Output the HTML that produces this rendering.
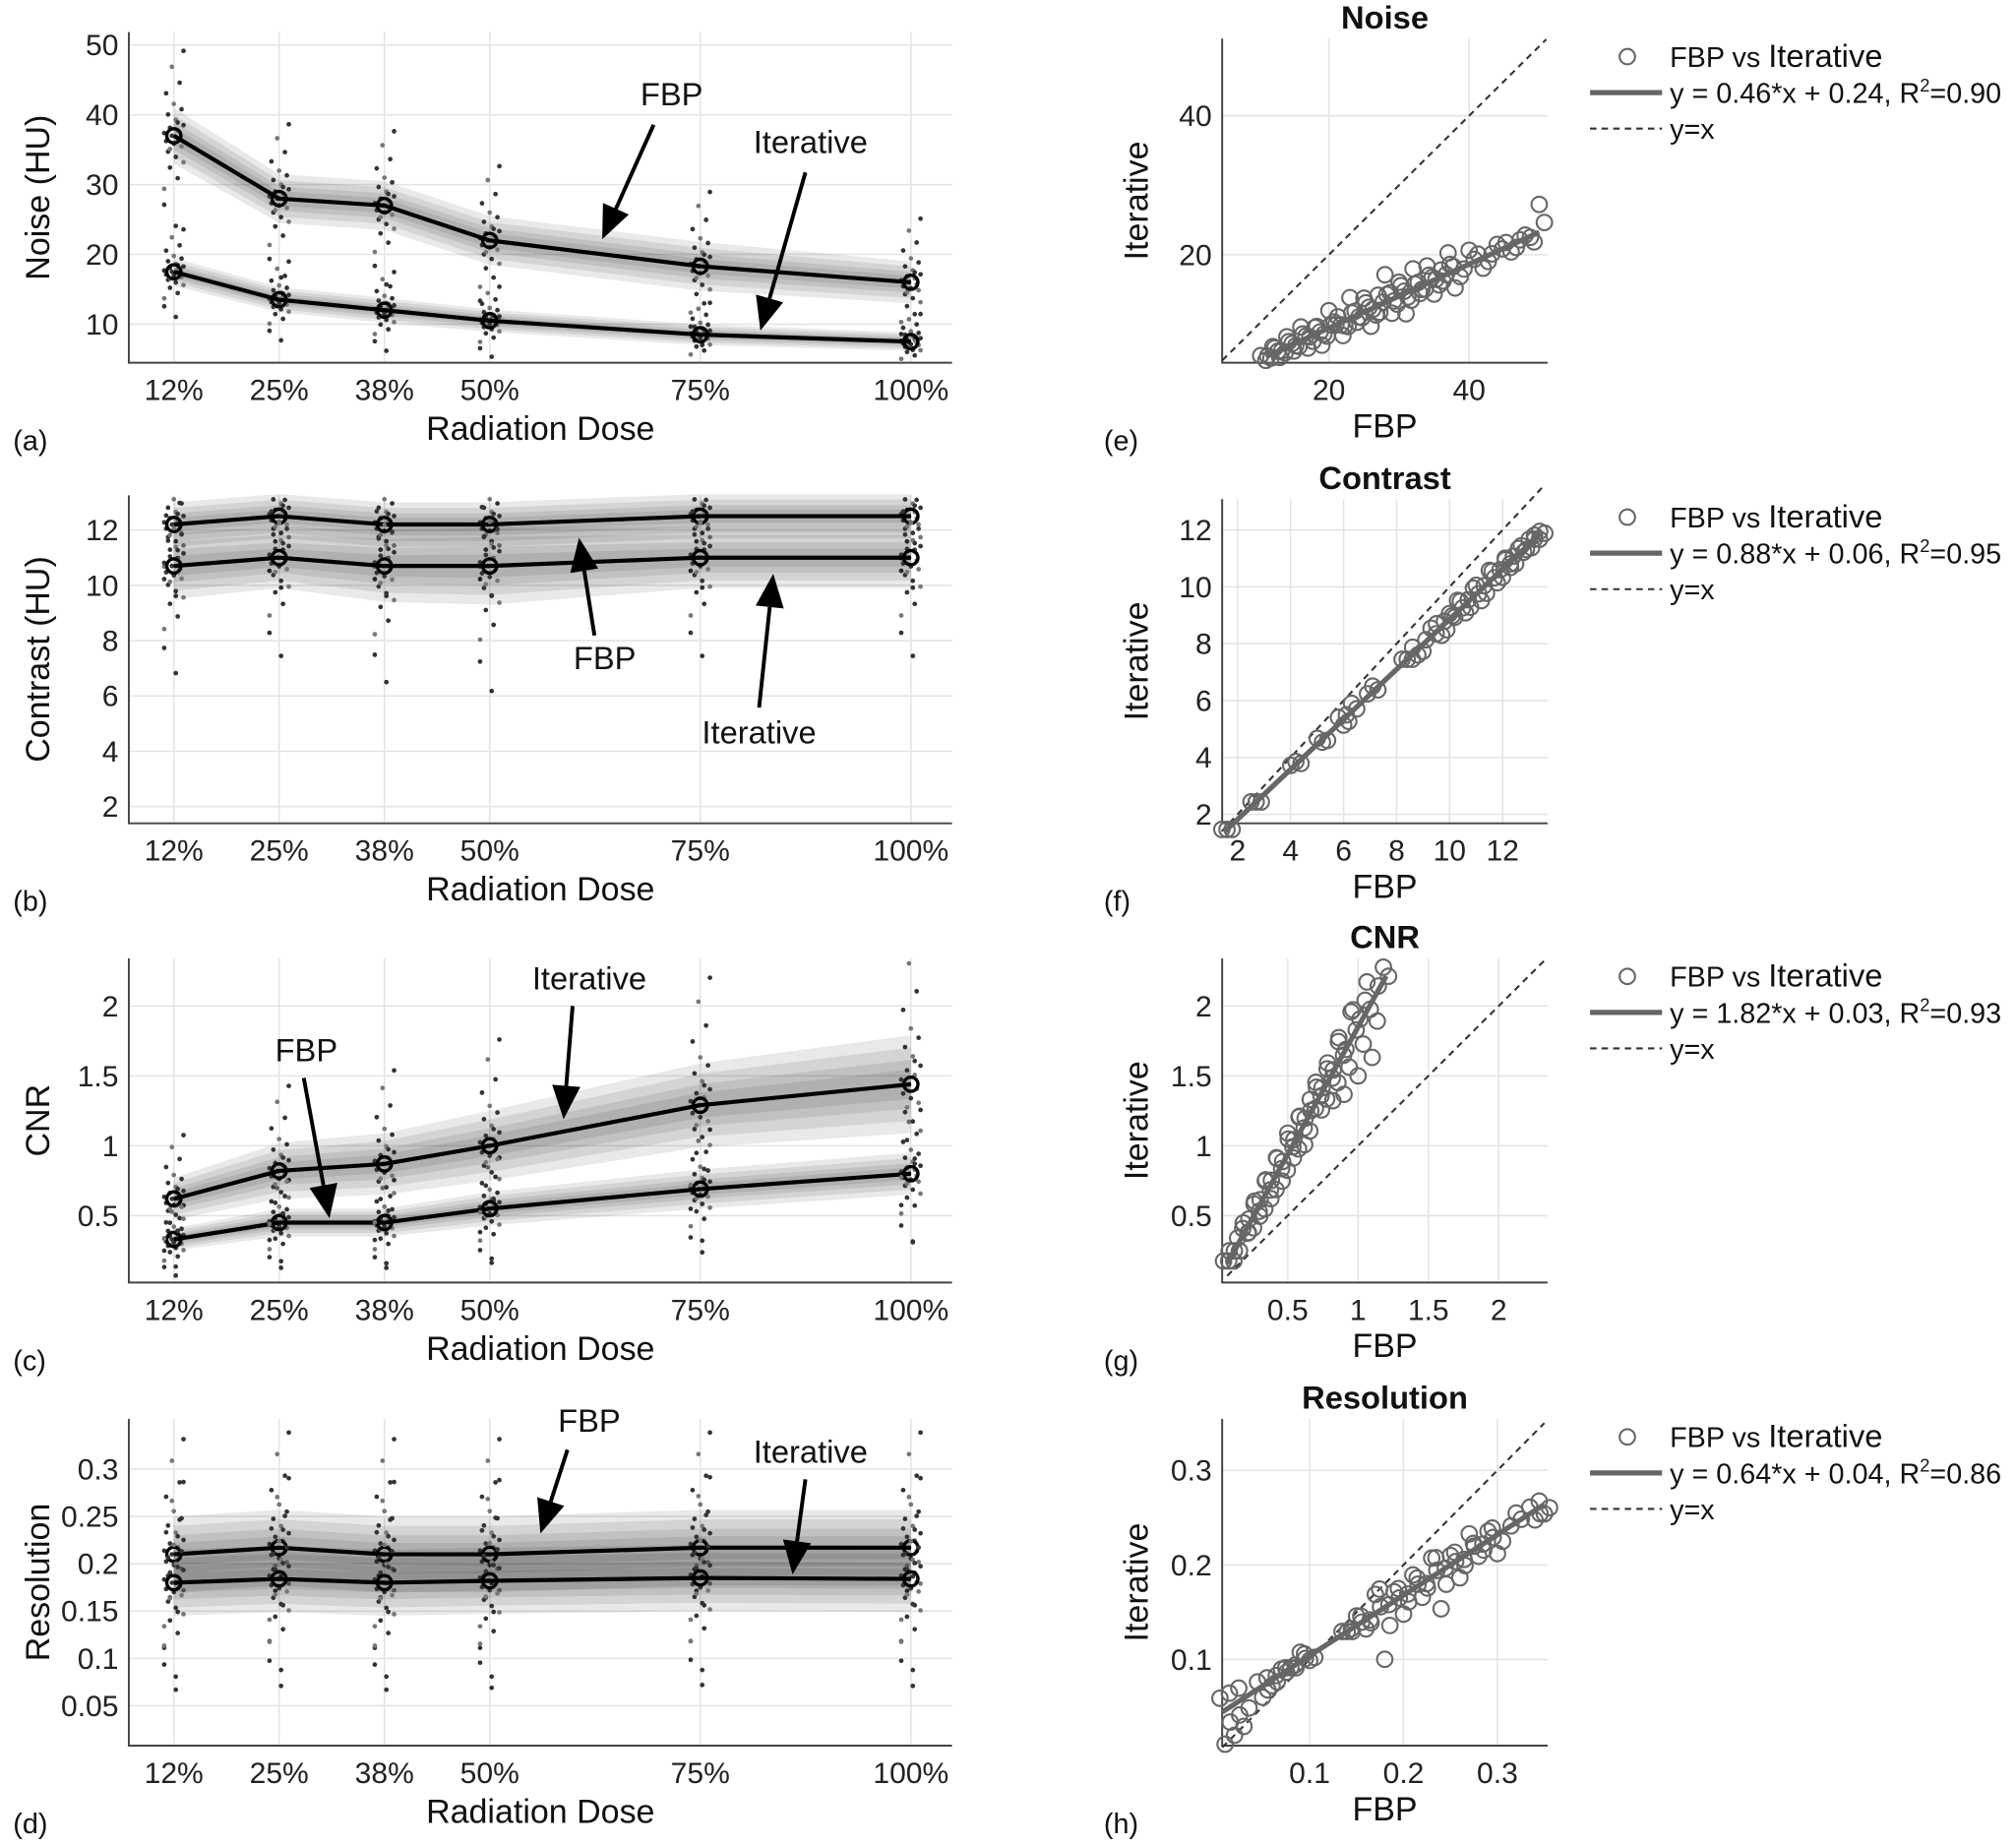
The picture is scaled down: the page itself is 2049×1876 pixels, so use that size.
<!DOCTYPE html>
<html><head><meta charset="utf-8"><style>
html,body{margin:0;padding:0;background:#fff}
svg{display:block;font-family:"Liberation Sans",Arial,sans-serif}
</style></head><body>
<svg id="fig" xmlns="http://www.w3.org/2000/svg" width="2049" height="1876" viewBox="0 0 1567 1435"></svg>
<script>
const doses=[12.5,25,37.5,50,75,100];
const doseLabels=["12%","25%","38%","50%","75%","100%"];
const noiseFBP=[37,28,27,22,18.3,16];
const noiseIter=[17.5,13.5,12,10.5,8.5,7.5];
const noiseFBPSpread=[4,3.5,3.5,3.5,3.5,3];
const noiseIterSpread=[2,1.8,1.8,1.6,1.5,1.3];
const contrastFBP=[12.2,12.5,12.2,12.2,12.5,12.5];
const contrastIter=[10.7,11,10.7,10.7,11,11];
const contrastFBPSpread=[0.8,0.8,0.8,0.8,0.8,0.8];
const contrastIterSpread=[1.2,1.1,1.3,1.4,1.1,1.1];
const cnrFBP=[0.33,0.45,0.45,0.55,0.69,0.8];
const cnrIter=[0.62,0.82,0.87,1.0,1.29,1.44];
const cnrFBPSpread=[0.08,0.1,0.1,0.12,0.14,0.15];
const cnrIterSpread=[0.15,0.2,0.22,0.25,0.3,0.35];
const resFBP=[0.21,0.217,0.21,0.21,0.217,0.217];
const resIter=[0.18,0.184,0.18,0.182,0.185,0.184];
const resFBPSpread=[0.04,0.04,0.04,0.04,0.04,0.04];
const resIterSpread=[0.035,0.035,0.035,0.035,0.035,0.035];
const dotPattern=[-1,-0.8,-0.6,-0.5,-0.4,-0.3,-0.2,-0.15,-0.1,-0.05,0,0.05,0.1,0.15,0.2,0.3,0.4,0.5,0.6,0.8,1,1.3,-1.3,0.25,-0.25,1.6,-1.7];
const fitNoise=[0.46,0.24], fitContrast=[0.88,0.06], fitCNR=[1.82,0.03], fitRes=[0.64,0.04];
const noiseX=[11,12,13,14,15,16,17,18,19,20,21,22,23,24,25,26,27,28,29,30,31,32,33,34,35,36,37,38,40,42,44,46,48,50];
const noiseRes=[-0.5,1,-1,1.5,-1,2,-1.5,1,-2,2.5,0,-2,3,-1,2,-2.5,1.5,4,-2,2,-3,3,-1,2.5,-2,1,3,-2.5,2,-1.5,1,-1,0.5,4];
const contrastX=[1.6,2.7,4.2,5.2,6,6.3,7.1,8.4,8.8,9.3,9.7,10,10.3,10.6,10.9,11.2,11.5,11.8,12.1,12.3,12.6,12.9,13.2,13.4];
const contrastRes=[0,0,0.1,-0.1,-0.2,0.3,0.2,0,-0.2,0.3,-0.3,0.2,0.4,-0.3,0.3,-0.4,0.4,-0.3,0.3,-0.2,0.2,-0.1,0,0.1];
const cnrX=[0.08,0.12,0.18,0.22,0.26,0.3,0.34,0.38,0.42,0.46,0.5,0.54,0.58,0.62,0.66,0.7,0.74,0.78,0.82,0.86,0.9,0.95,1.0,1.05,1.1,1.18];
const cnrRes=[0,0,0.05,-0.05,0.08,-0.08,0.1,-0.1,0.12,-0.12,0.15,-0.1,0.12,-0.15,0.1,0.15,-0.12,0.1,-0.2,0.15,-0.3,0.2,-0.35,0.1,-0.4,0.1];
const resX=[0.01,0.02,0.03,0.05,0.06,0.07,0.08,0.09,0.1,0.14,0.15,0.16,0.17,0.18,0.19,0.2,0.21,0.22,0.23,0.24,0.25,0.26,0.27,0.28,0.29,0.3,0.32,0.34,0.35];
const resRes=[-0.036,-0.033,-0.03,-0.012,-0.006,0.005,0,0.01,-0.005,0,0.01,-0.01,0.02,-0.055,0.01,-0.02,0.015,-0.015,0.02,-0.04,0.01,-0.02,0.02,-0.01,0.01,-0.02,0.01,-0.01,-0.01];

const NS="http://www.w3.org/2000/svg";
const svg=document.getElementById('fig');
function el(tag,attrs,parent,text){const e=document.createElementNS(NS,tag);for(const k in attrs)e.setAttribute(k,attrs[k]);if(text!==undefined)e.textContent=text;(parent||svg).appendChild(e);return e;}
function lin(d0,d1,r0,r1){return v=>r0+(v-d0)/(d1-d0)*(r1-r0);}

function axes(name,b,xs,ys,xt,xtl,yt,ytl){
  const g=el('g',{});
  
  
  xt.forEach(v=>{const l=el('line',{x1:xs(v),x2:xs(v),y1:b.y0,y2:b.y1,stroke:'#e4e4e4','stroke-width':1.2},g);});
  yt.forEach(v=>{const l=el('line',{x1:b.x0,x2:b.x1,y1:ys(v),y2:ys(v),stroke:'#e4e4e4','stroke-width':1.2},g);});
  const ax=el('path',{d:`M${b.x0} ${b.y0}V${b.y1}H${b.x1}`,fill:'none',stroke:'#444','stroke-width':1.5},g);
  
  xt.forEach((v,i)=>{const t=el('text',{x:xs(v),y:b.y1+29,'text-anchor':'middle','font-size':23,fill:'#222'},g,xtl[i]);});
  yt.forEach((v,i)=>{const t=el('text',{x:b.x0-8,y:ys(v)+8,'text-anchor':'end','font-size':23,fill:'#222'},g,ytl[i]);});
  return g;
}
function label(name,x,y,txt,size,anchor,rot,bold){
  const a={x:x,y:y,'font-size':size,'text-anchor':anchor||'middle',fill:'#111'};
  if(rot)a.transform=`rotate(-90 ${x} ${y})`;
  if(bold)a['font-weight']='bold';
  const t=el('text',a,svg,txt);return t;
}
function arrow(name,x1,y1,x2,y2){
  const g=el('g',{});
  const a=Math.atan2(y2-y1,x2-x1),L=26,W=11;
  const bx=x2-L*Math.cos(a),by=y2-L*Math.sin(a);
  el('line',{x1:x1,y1:y1,x2:bx,y2:by,stroke:'#000','stroke-width':3},g);
  el('polygon',{points:`${x2},${y2} ${bx+W*Math.sin(a)},${by-W*Math.cos(a)} ${bx-W*Math.sin(a)},${by+W*Math.cos(a)}`,fill:'#000'},g);
}
function series(name,xs,ys,vals,spread,b){
  const g=el('g',{});
  [1,0.75,0.5,0.3].forEach(f=>{
    const top=doses.map((d,i)=>xs(d)+','+ys(vals[i]+spread[i]*f));
    const bot=doses.map((d,i)=>xs(d)+','+ys(vals[i]-spread[i]*f)).reverse();
    const p=el('polygon',{points:top.concat(bot).join(' '),fill:'#000','fill-opacity':0.085},g);
    
  });
  doses.forEach((d,i)=>{dotPattern.forEach((q,k)=>{
    const cy=ys(vals[i]+q*spread[i]*1.9);
    if(cy<b.y0+2||cy>b.y1-2)return;
    const c=el('circle',{cx:xs(d)+((k*7)%11-5)*1.5,cy:cy,r:1.8,fill:k%3?'#333':'#777'},g);
    
  });});
  const ln=el('polyline',{points:doses.map((d,i)=>xs(d)+','+ys(vals[i])).join(' '),fill:'none',stroke:'#000','stroke-width':3.2},g);
  
  doses.forEach((d,i)=>{const c=el('circle',{cx:xs(d),cy:ys(vals[i]),r:5.5,fill:'none',stroke:'#000','stroke-width':2.6},g);});
}
const dx=lin(12.5,100,135,708);
function leftPanel(id,b,ys,yt,ytl,ytitle,fbp,fs,it,is,letter){
  axes('panel-'+id+'-axes',b,dx,ys,doses,doseLabels,yt,ytl);
  series('panel-'+id+'-fbp',dx,ys,fbp,fs,b);
  series('panel-'+id+'-iterative',dx,ys,it,is,b);
  label('panel-'+id+'-x-title',420,b.y1+60,'Radiation Dose',26);
  label('panel-'+id+'-y-title',b.x0-62,(b.y0+b.y1)/2,ytitle,26,'middle',true);
  label('panel-'+id+'-letter',10,b.y1+68,letter,22,'start');
}
leftPanel('a',{x0:100,x1:740,y0:25,y1:282},lin(10,50,252,35),[10,20,30,40,50],['10','20','30','40','50'],'Noise (HU)',noiseFBP,noiseFBPSpread,noiseIter,noiseIterSpread,'(a)');
label('label-a-fbp',522,82,'FBP',25);arrow('arrow-a-fbp',508,97,468,186);
label('label-a-iter',630,119,'Iterative',25);arrow('arrow-a-iter',626,134,591,257);
leftPanel('b',{x0:100,x1:740,y0:385,y1:640},lin(2,12,627,412),[2,4,6,8,10,12],['2','4','6','8','10','12'],'Contrast (HU)',contrastFBP,contrastFBPSpread,contrastIter,contrastIterSpread,'(b)');
label('label-b-fbp',470,520,'FBP',25);arrow('arrow-b-fbp',462,494,450,418);
label('label-b-iter',590,578,'Iterative',25);arrow('arrow-b-iter',590,550,601,446);
leftPanel('c',{x0:100,x1:740,y0:745,y1:997},lin(0.5,2,945,782),[0.5,1,1.5,2],['0.5','1','1.5','2'],'CNR',cnrFBP,cnrFBPSpread,cnrIter,cnrIterSpread,'(c)');
label('label-c-iter',458,769,'Iterative',25);arrow('arrow-c-iter',445,782,438,870);
label('label-c-fbp',238,825,'FBP',25);arrow('arrow-c-fbp',236,838,256,947);
leftPanel('d',{x0:100,x1:740,y0:1103,y1:1357},lin(0.05,0.3,1326,1142),[0.05,0.1,0.15,0.2,0.25,0.3],['0.05','0.1','0.15','0.2','0.25','0.3'],'Resolution',resFBP,resFBPSpread,resIter,resIterSpread,'(d)');
label('label-d-fbp',458,1113,'FBP',25);arrow('arrow-d-fbp',441,1127,420,1192);
label('label-d-iter',630,1137,'Iterative',25);arrow('arrow-d-iter',626,1150,616,1224);

function rightPanel(id,b,xs,ys,xt,xtl,yt,ytl,title,fit,px,pr,xmin,xmax,dmin,dmax,letter,r2,fitStr){
  axes('panel-'+id+'-axes',b,xs,ys,xt,xtl,yt,ytl);
  const d=el('line',{x1:xs(dmin),y1:ys(dmin),x2:xs(dmax),y2:ys(dmax),stroke:'#333','stroke-width':1.6,'stroke-dasharray':'5,4'});
  
  const g=el('g',{});
  px.forEach((x,i)=>{[1,0.35,-0.35].forEach((o,k)=>{
    const c=el('circle',{cx:xs(x)+(k===0?0:(k===1?4:-4)),cy:ys(fit[0]*x+fit[1]+pr[i]*o),r:6,fill:'none',stroke:'#666','stroke-width':1.6},g);
    
  });});
  const fl=el('line',{x1:xs(xmin),y1:ys(fit[0]*xmin+fit[1]),x2:xs(xmax),y2:ys(fit[0]*xmax+fit[1]),stroke:'#666','stroke-width':4});
  
  label('panel-'+id+'-title',(b.x0+b.x1)/2,b.y0-8,title,25,'middle',false,true);
  label('panel-'+id+'-x-title',(b.x0+b.x1)/2,b.y1+58,'FBP',26);
  label('panel-'+id+'-y-title',b.x0-58,(b.y0+b.y1)/2,'Iterative',26,'middle',true);
  label('panel-'+id+'-letter',858,b.y1+68,letter,22,'start');
  const lg=el('g',{});
  const y=b.y0+14;
  el('circle',{cx:1265,cy:y,r:6,fill:'none',stroke:'#666','stroke-width':1.6},lg);
  const t1=el('text',{x:1298,y:y+8,'font-size':22,fill:'#111'},lg);
  el('tspan',{},t1,'FBP vs ');el('tspan',{'font-size':25},t1,'Iterative');
  el('line',{x1:1236,x2:1292,y1:y+28,y2:y+28,stroke:'#666','stroke-width':4},lg);
  const t2=el('text',{x:1298,y:y+36,'font-size':22,fill:'#111'},lg,fitStr+', R');
  el('tspan',{'font-size':14,dy:-9},t2,'2');el('tspan',{dy:9},t2,'='+r2);
  el('line',{x1:1236,x2:1292,y1:y+56,y2:y+56,stroke:'#333','stroke-width':1.6,'stroke-dasharray':'5,4'},lg);
  el('text',{x:1298,y:y+64,'font-size':22,fill:'#111'},lg,'y=x');
}
rightPanel('e',{x0:950,x1:1203,y0:30,y1:282},lin(20,40,1033,1142),lin(20,40,198,90),[20,40],['20','40'],[20,40],['20','40'],'Noise',fitNoise,noiseX,noiseRes,11,50,4.8,51,'(e)','0.90','y = 0.46*x + 0.24');
rightPanel('f',{x0:950,x1:1203,y0:388,y1:640},lin(2,12,962,1168),lin(2,12,633,412),[2,4,6,8,10,12],['2','4','6','8','10','12'],[2,4,6,8,10,12],['2','4','6','8','10','12'],'Contrast',fitContrast,contrastX,contrastRes,1.5,13.4,1.4,13.6,'(f)','0.95','y = 0.88*x + 0.06');
rightPanel('g',{x0:950,x1:1203,y0:745,y1:997},lin(0.5,2,1001,1165),lin(0.5,2,945,782),[0.5,1,1.5,2],['0.5','1','1.5','2'],[0.5,1,1.5,2],['0.5','1','1.5','2'],'CNR',fitCNR,cnrX,cnrRes,0.07,1.2,0.07,2.33,'(g)','0.93','y = 1.82*x + 0.03');
rightPanel('h',{x0:950,x1:1203,y0:1103,y1:1357},lin(0.1,0.3,1018,1164),lin(0.1,0.3,1290,1143),[0.1,0.2,0.3],['0.1','0.2','0.3'],[0.1,0.2,0.3],['0.1','0.2','0.3'],'Resolution',fitRes,resX,resRes,0.007,0.35,0.007,0.35,'(h)','0.86','y = 0.64*x + 0.04');
</script>
</body></html>
